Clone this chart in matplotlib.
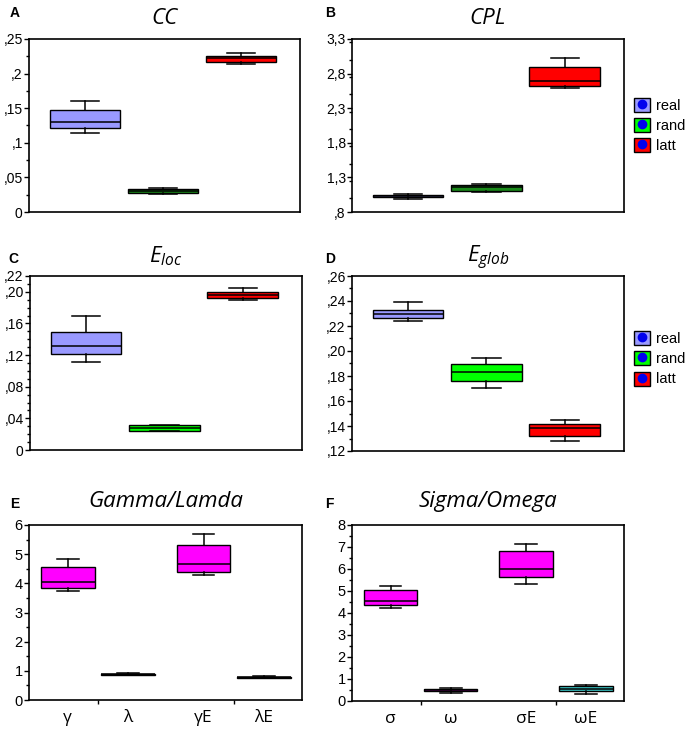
import matplotlib
matplotlib.use('Agg')
import matplotlib.pyplot as plt
from matplotlib.patches import Patch
from matplotlib.lines import Line2D
from matplotlib.ticker import MultipleLocator

plt.rcParams['font.family'] = ['Liberation Sans', 'DejaVu Sans']
plt.rcParams['mathtext.fontset'] = 'custom'
plt.rcParams['mathtext.it'] = 'Open Sans:italic'
plt.rcParams['mathtext.rm'] = 'Open Sans'

# five-number summaries: whisker low, q1, median, q3, whisker high
groups = ['real', 'rand', 'latt']

cc_real = [0.114, 0.122, 0.1305, 0.147, 0.161]
cc_rand = [0.026, 0.028, 0.031, 0.0335, 0.0345]
cc_latt = [0.2143, 0.2172, 0.2225, 0.226, 0.2298]

cpl_real = [0.995, 1.01, 1.025, 1.04, 1.06]
cpl_rand = [1.084, 1.11, 1.156, 1.19, 1.204]
cpl_latt = [2.598, 2.627, 2.694, 2.90, 3.02]

eloc_real = [0.1117, 0.121, 0.1319, 0.1496, 0.170]
eloc_rand = [0.0235, 0.0245, 0.0275, 0.031, 0.032]
eloc_latt = [0.1898, 0.1927, 0.1963, 0.2004, 0.2053]

eglob_real = [0.2241, 0.2265, 0.2293, 0.2324, 0.2390]
eglob_rand = [0.1702, 0.1763, 0.1830, 0.1897, 0.1943]
eglob_latt = [0.1281, 0.1318, 0.1385, 0.1420, 0.1450]

gl_names = ['γ', 'λ', 'γE', 'λE']
gl_vals = [[3.75, 3.85, 4.05, 4.55, 4.83],
           [0.85, 0.86, 0.88, 0.90, 0.93],
           [4.27, 4.38, 4.65, 5.30, 5.69],
           [0.75, 0.76, 0.78, 0.80, 0.83]]

so_names = ['σ', 'ω', 'σE', 'ωE']
so_vals = [[4.21, 4.37, 4.55, 5.05, 5.25],
           [0.36, 0.47, 0.50, 0.53, 0.60],
           [5.34, 5.62, 5.98, 6.82, 7.15],
           [0.34, 0.45, 0.56, 0.67, 0.73]]

cc_ticks = [0, .05, .1, .15, .2, .25]
cc_labels = ['0', ',05', ',1', ',15', ',2', ',25']
cpl_ticks = [.8, 1.3, 1.8, 2.3, 2.8, 3.3]
cpl_labels = [',8', '1,3', '1,8', '2,3', '2,8', '3,3']
eloc_ticks = [0, .04, .08, .12, .16, .20, .22]
eloc_labels = ['0', ',04', ',08', ',12', ',16', ',20', ',22']
eglob_ticks = [.12, .14, .16, .18, .20, .22, .24, .26]
eglob_labels = [',12', ',14', ',16', ',18', ',20', ',22', ',24', ',26']

c_real = '#9999FF'
c_rand = '#00FF00'
c_rand_dark = '#1A8A1A'
c_latt = '#FF0000'
c_mag = '#FF00FF'
c_teal = '#3CCCCC'

W, H = 686, 731
fig = plt.figure(figsize=(W / 100, H / 100), dpi=100)


def px_axes(x0, y0, x1, y1):
    return fig.add_axes([x0 / W, 1 - y1 / H, (x1 - x0) / W, (y1 - y0) / H])


def draw(ax, vals, colors, positions, width, capw):
    stats = [dict(whislo=v[0], q1=v[1], med=v[2], q3=v[3], whishi=v[4], fliers=[])
             for v in vals]
    res = ax.bxp(stats, positions=positions, widths=width, capwidths=capw,
                 patch_artist=True, showfliers=False,
                 boxprops=dict(edgecolor='black', linewidth=1.0),
                 medianprops=dict(color='black', linewidth=1.1),
                 whiskerprops=dict(color='black', linewidth=1.1),
                 capprops=dict(color='black', linewidth=1.1))
    for b, c in zip(res['boxes'], colors):
        b.set_facecolor(c)
    for s in ax.spines.values():
        s.set_linewidth(1.2)
    ax.tick_params(axis='y', which='major', direction='out', length=3.5, width=1,
                   labelsize=10, pad=1)
    ax.tick_params(axis='y', which='minor', direction='out', length=2, width=1)


def style_y(ax, lim, ticks, labels, minor):
    ax.set_ylim(*lim)
    ax.set_yticks(ticks, labels)
    ax.yaxis.set_minor_locator(MultipleLocator(minor))


def legend(ax, y):
    handles = [(Patch(facecolor=c, edgecolor='black', linewidth=1),
                Line2D([], [], marker='o', color='#0000EE', linestyle='', markersize=6))
               for c in [c_real, c_rand, c_latt]]
    ax.legend(handles, groups, loc='center left', bbox_to_anchor=(1.035, y),
              frameon=False, handlelength=1.1, handleheight=1.1, handletextpad=0.45,
              labelspacing=0.35, borderaxespad=0, borderpad=0, fontsize=10.5)


title_kw = dict(fontsize=16, family='Open Sans', style='italic')

# A
axA = px_axes(29, 39, 300, 212)
draw(axA, [cc_real, cc_rand, cc_latt], [c_real, c_rand_dark, c_latt], [1, 2, 3], 0.9, 0.36)
axA.set_xlim(0.28, 3.76)
axA.set_xticks([])
style_y(axA, (0, 0.25), cc_ticks, cc_labels, 0.025)
axA.set_title('CC', pad=11, **title_kw)

# B
axB = px_axes(352, 39, 624, 212)
draw(axB, [cpl_real, cpl_rand, cpl_latt], [c_real, c_rand_dark, c_latt], [1, 2, 3], 0.9, 0.36)
axB.set_xlim(0.28, 3.76)
axB.set_xticks([])
style_y(axB, (0.8, 3.3), cpl_ticks, cpl_labels, 0.25)
axB.set_title('CPL', pad=11, **title_kw)
legend(axB, 0.5)

# C
axC = px_axes(30, 276, 302, 450)
draw(axC, [eloc_real, eloc_rand, eloc_latt], [c_real, c_rand, c_latt], [1, 2, 3], 0.9, 0.36)
axC.set_xlim(0.28, 3.76)
axC.set_xticks([])
style_y(axC, (0, 0.22), eloc_ticks, eloc_labels, 0.01)
axC.set_title(r'$E_{loc}$', pad=10, **title_kw)

# D
axD = px_axes(352, 276, 624, 451)
draw(axD, [eglob_real, eglob_rand, eglob_latt], [c_real, c_rand, c_latt], [1, 2, 3], 0.9, 0.36)
axD.set_xlim(0.28, 3.76)
axD.set_xticks([])
style_y(axD, (0.12, 0.26), eglob_ticks, eglob_labels, 0.01)
axD.set_title(r'$E_{glob}$', pad=10, **title_kw)
legend(axD, 0.526)

# E / F
pos4 = [1, 2, 3.25, 4.25]
for ax_box, names, vals, colors, top, title in [
        ((29, 525, 302, 700), gl_names, gl_vals, [c_mag, c_mag, c_mag, c_mag], 6, 'Gamma/Lamda'),
        ((352, 525, 624, 701), so_names, so_vals, [c_mag, c_mag, c_mag, c_teal], 8, 'Sigma/Omega')]:
    ax = px_axes(*ax_box)
    draw(ax, vals, colors, pos4, 0.89, 0.36)
    ax.set_xlim(0.36, 4.88)
    ax.set_ylim(0, top)
    ax.set_yticks(range(0, top + 1))
    ax.yaxis.set_minor_locator(MultipleLocator(0.5))
    ax.tick_params(axis='y', labelsize=10.5)
    ax.set_xticks([1.5, 3.75], ['', ''])
    ax.set_xticks(pos4, names, minor=True)
    ax.tick_params(axis='x', which='major', direction='out', length=3, width=1)
    ax.tick_params(axis='x', which='minor', length=0, pad=7, labelsize=12.5)
    for t in ax.get_xticklabels(minor=True):
        t.set_family('Open Sans')
    ax.set_title(title, pad=13, **title_kw)

# panel letters
for letter, x, y in [('A', 10, 17), ('B', 325, 17), ('C', 8, 263),
                     ('D', 325, 263), ('E', 10, 508), ('F', 325, 508)]:
    fig.text(x / W, 1 - y / H, letter, fontsize=10, fontweight='bold', va='baseline')

fig.savefig('out.png', dpi=100)
